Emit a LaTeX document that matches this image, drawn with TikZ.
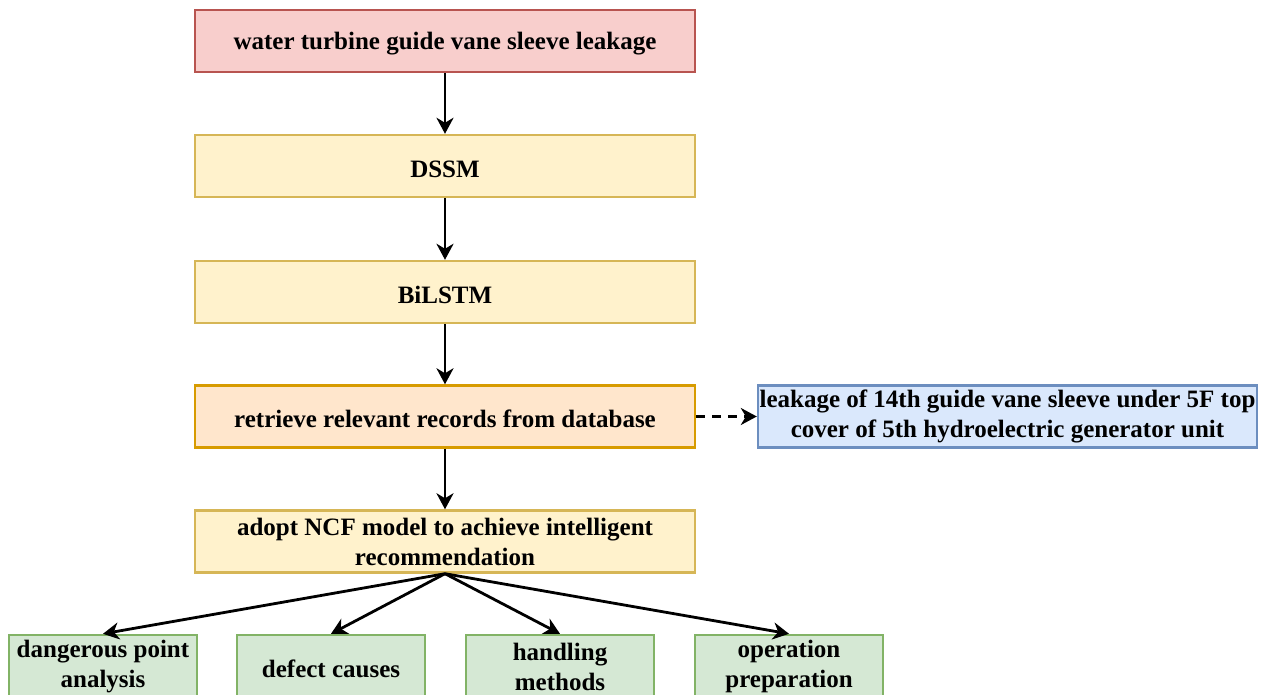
\documentclass[tikz,border=0pt]{standalone}
\usepackage{fontspec}
\setmainfont{Liberation Serif}
\usetikzlibrary{arrows.meta}
\definecolor{redfill}{HTML}{F8CECC}\definecolor{redline}{HTML}{B85450}
\definecolor{yelfill}{HTML}{FFF2CC}\definecolor{yelline}{HTML}{D6B656}
\definecolor{orfill}{HTML}{FFE6CC}\definecolor{orline}{HTML}{D79B00}
\definecolor{bluefill}{HTML}{DAE8FC}\definecolor{blueline}{HTML}{6C8EBF}
\definecolor{grnfill}{HTML}{D5E8D4}\definecolor{grnline}{HTML}{82B366}
\begin{document}
\begin{tikzpicture}[x=1pt,y=-1pt,
  box/.style={draw, line width=2.4pt, minimum width=500pt, minimum height=62pt,
    align=center, inner sep=1pt, font=\fontsize{25}{30}\selectfont\bfseries,
    execute at begin node={\rule{0pt}{23pt}}},
  smallbox/.style={box, minimum width=188pt, minimum height=63pt},
  redbox/.style={fill=redfill, draw=redline},
  yelbox/.style={fill=yelfill, draw=yelline},
  orbox/.style={fill=orfill, draw=orline},
  bluebox/.style={fill=bluefill, draw=blueline},
  grnbox/.style={fill=grnfill, draw=grnline},
  arr/.style={-{Stealth[length=16pt,width=17pt,inset=5pt]}, line width=2.8pt, black},
  darr/.style={arr, dash pattern=on 9pt off 7pt}]
\useasboundingbox (0,0) rectangle (1266,695);
\node[box,redbox] (leak) at (445,41) {water turbine guide vane sleeve leakage};
\node[box,yelbox] (dssm) at (445,166) {DSSM};
\node[box,yelbox] (bilstm) at (445,292) {BiLSTM};
\node[box,orbox] (retr) at (445,416.5) {retrieve relevant records from database};
\node[box,bluebox, minimum width=499pt] (rec) at (1007.5,416.5) {leakage of 14th guide vane sleeve under 5F top\\cover of 5th hydroelectric generator unit};
\node[box,yelbox] (ncf) at (445,541.5) {adopt NCF model to achieve intelligent\\recommendation};
\node[smallbox,grnbox] (dang) at (103,666.5) {dangerous point\\analysis};
\node[smallbox,grnbox] (defe) at (331,666.5) {defect causes};
\node[smallbox,grnbox] (hand) at (560,666.5) {handling\\methods};
\node[smallbox,grnbox] (oper) at (789,666.5) {operation\\preparation};
\draw[arr] (leak) -- (dssm);
\draw[arr] (dssm) -- (bilstm);
\draw[arr] (bilstm) -- (retr);
\draw[arr] (retr) -- (ncf);
\draw[darr] (retr) -- (rec);
\foreach \t in {dang,defe,hand,oper}
  \draw[arr] (ncf.south) -- (\t.north);
\end{tikzpicture}
\end{document}
